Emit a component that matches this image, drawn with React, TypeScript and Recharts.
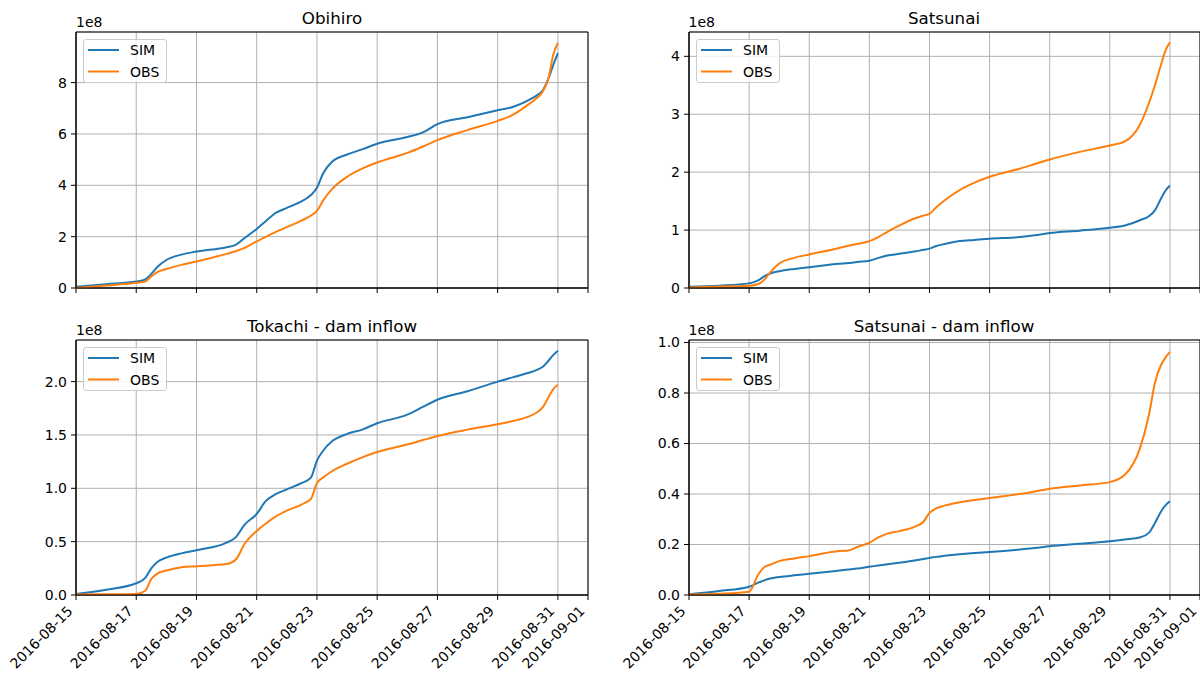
import React from 'react';
import { LineChart, Line, XAxis, YAxis, CartesianGrid, ReferenceArea, Legend } from 'recharts';

const FONT = '"DejaVu Sans", Verdana, sans-serif';
const SIM_COLOR = '#1f77b4';
const OBS_COLOR = '#ff7f0e';
const seriesNames = ['SIM', 'OBS'];

// days since 2016-08-15 00:00
const days = [0, 1, 2, 2.3, 2.5, 2.7, 3, 3.5, 4, 5, 5.3, 5.6, 6, 6.3, 6.6, 7, 7.5, 7.8, 8, 8.2, 8.5, 9, 9.5, 10, 11, 11.5, 12, 13, 14, 14.5, 15, 15.3, 15.5, 15.7, 15.85, 16];

const xTickDays = [0, 2, 4, 6, 8, 10, 12, 14, 16, 17];
const xTickLabels = ['2016-08-15', '2016-08-17', '2016-08-19', '2016-08-21', '2016-08-23', '2016-08-25', '2016-08-27', '2016-08-29', '2016-08-31', '2016-09-01'];

// values in units of 1e8
const obihiroSim = [0.05, 0.15, 0.25, 0.33, 0.55, 0.82, 1.09, 1.30, 1.42, 1.59, 1.68, 1.95, 2.3, 2.6, 2.9, 3.12, 3.38, 3.62, 3.9, 4.45, 4.92, 5.2, 5.4, 5.62, 5.88, 6.05, 6.38, 6.65, 6.92, 7.05, 7.3, 7.5, 7.7, 8.2, 8.7, 9.15];
const obihiroObs = [0.0, 0.1, 0.2, 0.25, 0.45, 0.62, 0.74, 0.9, 1.03, 1.33, 1.43, 1.56, 1.82, 1.99, 2.17, 2.37, 2.63, 2.82, 3.0, 3.4, 3.85, 4.33, 4.65, 4.89, 5.26, 5.5, 5.76, 6.15, 6.51, 6.74, 7.13, 7.4, 7.65, 8.23, 9.1, 9.54];

const satsunaiSim = [0.02, 0.04, 0.08, 0.13, 0.2, 0.25, 0.29, 0.33, 0.36, 0.42, 0.43, 0.45, 0.47, 0.52, 0.56, 0.59, 0.63, 0.66, 0.68, 0.72, 0.76, 0.81, 0.83, 0.85, 0.88, 0.91, 0.95, 0.99, 1.04, 1.08, 1.17, 1.24, 1.34, 1.54, 1.68, 1.77];
const satsunaiObs = [0.01, 0.025, 0.04, 0.07, 0.14, 0.27, 0.42, 0.52, 0.58, 0.69, 0.73, 0.76, 0.81, 0.88, 0.97, 1.08, 1.2, 1.25, 1.28, 1.38, 1.51, 1.69, 1.82, 1.92, 2.06, 2.14, 2.22, 2.35, 2.46, 2.53, 2.82, 3.19, 3.5, 3.85, 4.1, 4.24];

const tokachiSim = [0.01, 0.05, 0.11, 0.16, 0.25, 0.31, 0.35, 0.39, 0.42, 0.49, 0.54, 0.66, 0.76, 0.88, 0.94, 0.99, 1.05, 1.10, 1.26, 1.35, 1.44, 1.51, 1.55, 1.61, 1.69, 1.76, 1.83, 1.91, 2.0, 2.04, 2.08, 2.11, 2.14, 2.2, 2.25, 2.29];
const tokachiObs = [0.005, 0.007, 0.01, 0.04, 0.15, 0.2, 0.23, 0.26, 0.27, 0.29, 0.33, 0.48, 0.6, 0.67, 0.73, 0.79, 0.85, 0.9, 1.05, 1.1, 1.16, 1.23, 1.29, 1.34, 1.41, 1.45, 1.49, 1.55, 1.6, 1.63, 1.67, 1.71, 1.76, 1.86, 1.93, 1.97];

const satsunaiDamSim = [0.003, 0.016, 0.033, 0.049, 0.058, 0.065, 0.071, 0.078, 0.084, 0.097, 0.101, 0.105, 0.112, 0.117, 0.122, 0.128, 0.137, 0.143, 0.147, 0.151, 0.155, 0.161, 0.166, 0.17, 0.18, 0.186, 0.193, 0.203, 0.213, 0.22, 0.228, 0.246, 0.285, 0.33, 0.355, 0.371];
const satsunaiDamObs = [0.002, 0.005, 0.013, 0.08, 0.11, 0.12, 0.134, 0.145, 0.154, 0.174, 0.176, 0.19, 0.207, 0.228, 0.243, 0.253, 0.27, 0.29, 0.325, 0.342, 0.354, 0.367, 0.376, 0.384, 0.40, 0.41, 0.421, 0.434, 0.447, 0.476, 0.58, 0.713, 0.84, 0.91, 0.94, 0.963];

const titles = ['Obihiro', 'Satsunai', 'Tokachi - dam inflow', 'Satsunai - dam inflow'];
const ticksObihiro = [0, 2, 4, 6, 8];
const ticksSatsunai = [0, 1, 2, 3, 4];
const ticksTokachi = [0, 0.5, 1.0, 1.5, 2.0];
const ticksSatsunaiDam = [0, 0.2, 0.4, 0.6, 0.8, 1.0];
const offsetLabel = '1e8';

const YW = 70;
const MT = 10;
const MR = 10;

const XTick = (props: any) => {
  const { x, y, payload } = props;
  const i = xTickDays.indexOf(payload.value);
  const tx = x - 2.5;
  const ty = y + 10;
  return (
    <text x={tx} y={ty} transform={`rotate(-45 ${tx} ${ty})`} textAnchor="end" fontSize={14} fontFamily={FONT} fill="#000">
      {xTickLabels[i]}
    </text>
  );
};

const NoTick = () => <g />;

const LegendBox = (props: any) => {
  const payload = [...(props.payload || [])].sort(
    (a: any, b: any) => seriesNames.indexOf(a.value) - seriesNames.indexOf(b.value)
  );
  return (
    <div style={{ position: 'relative', width: 84, height: 44, boxSizing: 'border-box', border: '1px solid #cccccc', borderRadius: 3, background: 'rgba(255,255,255,0.8)' }}>
      <svg width={84} height={44} style={{ position: 'absolute', left: -1, top: -1 }}>
        {payload.map((p: any, i: number) => (
          <g key={i}>
            <line x1={5} x2={36} y1={11 + i * 21.5} y2={11 + i * 21.5} stroke={p.color} strokeWidth={2} />
            <text x={47} y={16 + i * 21.5} fontSize={14} fontFamily={FONT} fill="#000">{p.value}</text>
          </g>
        ))}
      </svg>
    </div>
  );
};

function Panel(props: any) {
  const { sim, obs, yMax, yTicks, yFmt, left, top, plotW, plotH, showX } = props;
  const XH = showX ? 90 : 10;
  const data = days.map((d, i) => ({ d, sim: sim[i], obs: obs[i] }));
  return (
    <div style={{ position: 'absolute', left: left - YW, top: top - MT }}>
      <LineChart width={YW + plotW + MR} height={MT + plotH + XH} data={data} margin={{ top: MT, right: MR, left: 0, bottom: 0 }}>
        <CartesianGrid stroke="#b0b0b0" strokeWidth={1} />
        <XAxis
          dataKey="d"
          type="number"
          domain={[0, 17]}
          ticks={xTickDays}
          interval={0}
          height={XH}
          tick={showX ? <XTick /> : <NoTick />}
          tickSize={5}
          tickLine={{ stroke: '#000', strokeWidth: 1 }}
          axisLine={{ stroke: '#000', strokeWidth: 1 }}
        />
        <YAxis
          type="number"
          domain={[0, yMax]}
          ticks={yTicks}
          interval={0}
          width={YW}
          tickSize={5}
          tickMargin={4}
          tickFormatter={yFmt}
          tick={{ fill: '#000', fontSize: 14, fontFamily: FONT }}
          tickLine={{ stroke: '#000', strokeWidth: 1 }}
          axisLine={{ stroke: '#000', strokeWidth: 1 }}
        />
        <ReferenceArea x1={0} x2={17} y1={0} y2={yMax} fill="none" fillOpacity={0} stroke="#000" strokeWidth={1} />
        <Line name="SIM" dataKey="sim" type="monotone" stroke={SIM_COLOR} strokeWidth={2} dot={false} isAnimationActive={false} />
        <Line name="OBS" dataKey="obs" type="monotone" stroke={OBS_COLOR} strokeWidth={2} dot={false} isAnimationActive={false} />
        <Legend
          layout="horizontal"
          verticalAlign="middle"
          align="center"
          itemSorter={null as any}
          content={<LegendBox />}
          wrapperStyle={{ left: YW + 7, top: MT + 7, width: 84, height: 44 }}
        />
      </LineChart>
    </div>
  );
}

const intFmt = (v: number) => String(v);
const oneFmt = (v: number) => v.toFixed(1);

const panels = [
  { sim: obihiroSim, obs: obihiroObs, yMax: 9.97, yTicks: ticksObihiro, yFmt: intFmt, left: 76, top: 32, plotW: 512, plotH: 256, showX: false },
  { sim: satsunaiSim, obs: satsunaiObs, yMax: 4.42, yTicks: ticksSatsunai, yFmt: intFmt, left: 688.5, top: 32, plotW: 511, plotH: 256, showX: false },
  { sim: tokachiSim, obs: tokachiObs, yMax: 2.39, yTicks: ticksTokachi, yFmt: oneFmt, left: 76, top: 340, plotW: 512, plotH: 255, showX: true },
  { sim: satsunaiDamSim, obs: satsunaiDamObs, yMax: 1.01, yTicks: ticksSatsunaiDam, yFmt: oneFmt, left: 688.5, top: 340, plotW: 511, plotH: 255, showX: true },
];

export default function App() {
  return (
    <div style={{ position: 'absolute', left: 0, top: 0, width: 1200, height: 673, overflow: 'hidden', background: '#fff', fontFamily: FONT }}>
      {panels.map((p, i) => (
        <Panel key={i} {...p} />
      ))}
      <svg width={1200} height={673} style={{ position: 'absolute', left: 0, top: 0, pointerEvents: 'none' }}>
        {panels.map((p, i) => (
          <g key={i}>
            <text x={p.left + p.plotW / 2} y={p.top - 8} textAnchor="middle" fontSize={16.7} fontFamily={FONT} fill="#000">{titles[i]}</text>
            <text x={p.left} y={p.top - 5.5} textAnchor="start" fontSize={14} fontFamily={FONT} fill="#000">{offsetLabel}</text>
          </g>
        ))}
      </svg>
    </div>
  );
}
